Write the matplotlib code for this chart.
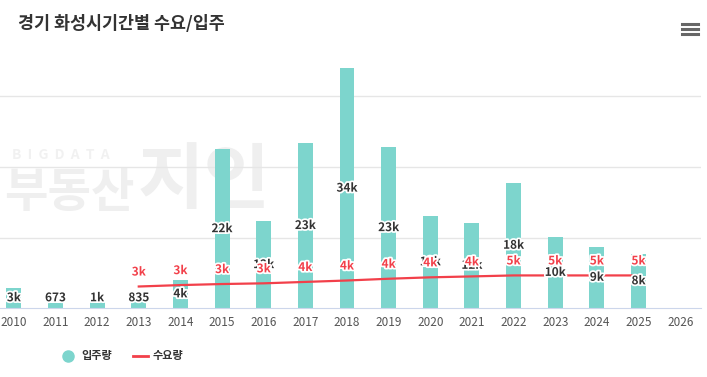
import matplotlib
matplotlib.use('Agg')
import matplotlib.pyplot as plt
import matplotlib.patheffects as pe
from matplotlib.lines import Line2D

plt.rcParams['font.family'] = ['Noto Sans CJK KR', 'DejaVu Sans']

# 데이터
years = [str(y) for y in range(2010, 2027)]
supply = [2900, 673, 1000, 835, 4000, 22500, 12300, 23400, 34000, 22800, 13100, 12100, 17800, 10100, 8700, 7700, 0]
supply_lbl = ['3k', '673', '1k', '835', '4k', '22k', '12k', '23k', '34k', '23k', '13k', '12k', '18k', '10k', '9k', '8k', '']
demand_years = list(range(3, 16))  # 2013 ~ 2025
demand = [3050, 3250, 3400, 3500, 3700, 3900, 4150, 4350, 4480, 4620, 4620, 4620, 4620]
demand_lbl = ['3k', '3k', '3k', '3k', '4k', '4k', '4k', '4k', '4k', '5k', '5k', '5k', '5k']

bar_c = '#7dd5cd'
red = '#f2404a'
dark = '#333333'

W, H = 707, 377
fig = plt.figure(figsize=(W / 100, H / 100), dpi=100)

left_px, right_px = -7, 701
top_px, base_px = 26, 308
ax = fig.add_axes([left_px / W, 1 - base_px / H, (right_px - left_px) / W, (base_px - top_px) / H])
ax.patch.set_alpha(0)

# 워터마크 (막대 뒤)
ax.text(12 / W, 1 - 155 / H, 'B  I  G  D  A  T  A', fontsize=10, color='#f1f1f1',
        ha='left', va='center', fontweight='bold', zorder=0.5, transform=fig.transFigure)
ax.text(4 / W, 1 - 193 / H, '부동산', fontsize=34, color='#efefef',
        ha='left', va='center', fontweight='bold', zorder=0.5, transform=fig.transFigure)
ax.text(138 / W, 1 - 182 / H, '지인', fontsize=52, color='#efefef',
        ha='left', va='center', fontweight='bold', zorder=0.5, transform=fig.transFigure)

x = list(range(len(years)))
ax.bar(x, supply, width=0.36, color=bar_c, zorder=2)
ax.plot(demand_years, demand, color=red, lw=1.6, zorder=3)

ax.set_xlim(-0.5, len(years) - 0.5)
ax.set_ylim(0, 40000)
for g in [10000, 20000, 30000]:
    ax.axhline(g, color='#e6e6e6', lw=1, zorder=1)

outline = [pe.withStroke(linewidth=2.5, foreground='white')]
for i, v in enumerate(supply):
    if not supply_lbl[i]:
        continue
    ax.text(i, max(v / 2, 1450), supply_lbl[i], ha='center', va='center', fontsize=8.5,
            fontweight='bold', color=dark, path_effects=outline, zorder=4)
for i, v, t in zip(demand_years, demand, demand_lbl):
    ax.text(i, v + 2050, t, ha='center', va='center', fontsize=8.5,
            fontweight='bold', color=red, path_effects=outline, zorder=5)

for s in ['top', 'right', 'left']:
    ax.spines[s].set_visible(False)
ax.spines['bottom'].set_color('#ccd6eb')
ax.set_yticks([])
ax.set_xticks(x)
ax.set_xticklabels(years, fontsize=8.5, color='#555555')
ax.tick_params(axis='x', length=0, pad=6)

# 제목
fig.text(18 / W, 1 - 24 / H, '경기 화성시기간별 수요/입주', fontsize=12.5, color=dark,
         ha='left', va='center', fontweight='bold')

# 메뉴 아이콘
for yy in [24, 29, 34]:
    fig.add_artist(Line2D([682 / W, 698 / W], [1 - yy / H, 1 - yy / H], color='#666666', lw=2.2))

# 범례
fig.add_artist(Line2D([68 / W], [1 - 356 / H], marker='o', markersize=8, color=bar_c, lw=0))
fig.text(81 / W, 1 - 356 / H, '입주량', fontsize=8, fontweight='bold', color=dark, va='center')
fig.add_artist(Line2D([133 / W, 148 / W], [1 - 356 / H, 1 - 356 / H], color=red, lw=2))
fig.text(153 / W, 1 - 356 / H, '수요량', fontsize=8, fontweight='bold', color=dark, va='center')

fig.savefig('out.png', dpi=100)
